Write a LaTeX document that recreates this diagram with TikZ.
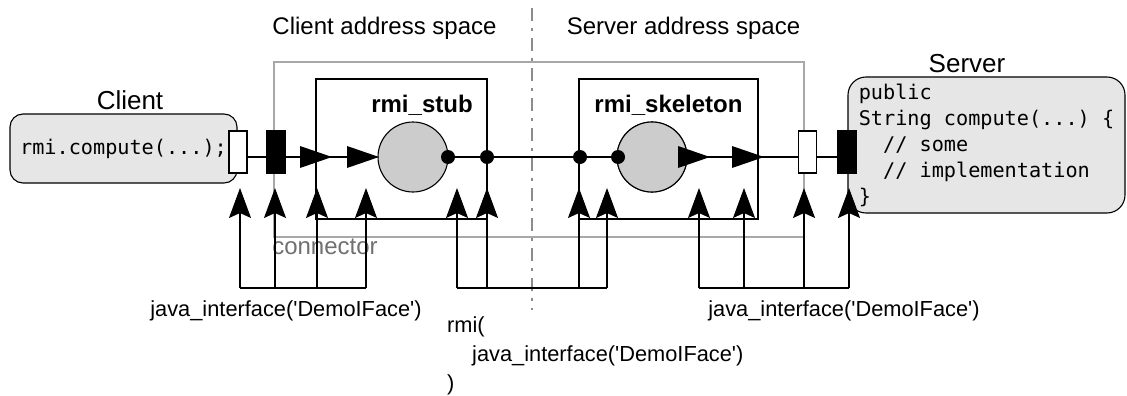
\documentclass[tikz,border=0pt]{standalone}
\usepackage{fontspec}
\setmainfont{Liberation Sans}
\setmonofont{DejaVu Sans Mono}
\usetikzlibrary{arrows.meta}
\definecolor{boxfill}{HTML}{E6E6E6}
\definecolor{discfill}{HTML}{CCCCCC}
\definecolor{framegray}{HTML}{A8A8A8}
\definecolor{labelgray}{HTML}{707070}
\definecolor{splitgray}{HTML}{8C8C8C}

\begin{document}
\begin{tikzpicture}[x=1pt,y=-1pt,
  wire/.style={line width=1.1pt},
  uparrow/.style={line width=1.1pt,-{Stealth[length=30pt,width=22pt,inset=5pt]}},
  port/.style={draw,line width=1.1pt,minimum width=18pt,minimum height=42pt,inner sep=0pt},
  component/.style={draw,line width=1.1pt,inner sep=0pt},
  disc/.style={circle,draw,line width=1.1pt,fill=discfill,minimum size=70pt,inner sep=0pt},
  joint/.style={circle,fill=black,minimum size=14pt,inner sep=0pt},
  codebox/.style={draw,line width=1.1pt,fill=boxfill,inner sep=0pt},
  biglabel/.style={font=\fontsize{24}{28}\selectfont,inner sep=0pt},
  titlelabel/.style={font=\fontsize{26}{30}\selectfont,inner sep=0pt},
  boldlabel/.style={font=\bfseries\fontsize{24}{28}\selectfont,inner sep=0pt},
  smalllabel/.style={font=\fontsize{21.8}{29}\selectfont,inner sep=0pt},
  code/.style={font=\ttfamily\fontsize{20.2}{26}\selectfont},
  flow/.pic={\fill (-32,-11) -- (0,0) -- (-32,11) -- cycle;}
]
\useasboundingbox (0,0) rectangle (1127,396);

% address space titles and the split between them
\node[biglabel,anchor=base] (clspace) at (384.5,35) {Client address space};
\node[biglabel,anchor=base] (svspace) at (683.5,35) {Server address space};
\coordinate (splittop) at (532,8);
\coordinate (splitbot) at (532,310);
\draw[splitgray,line width=1.2pt,dash pattern=on 13pt off 7pt on 3pt off 7pt] (splittop) -- (splitbot);

% connector frame
\node[draw=framegray,line width=1.3pt,minimum width=530pt,minimum height=175pt,inner sep=0pt] (frame) at (539,149.5) {};
\node[biglabel,anchor=base,text=labelgray] (connlbl) at (325,254) {connector};

% stub and skeleton components
\node[component,minimum width=171pt,minimum height=140pt] (stub) at (401.5,149) {};
\node[component,minimum width=179pt,minimum height=140pt] (skel) at (668.5,149) {};
\node[boldlabel,anchor=base] (stublbl) at (422,112) {rmi\_stub};
\node[boldlabel,anchor=base] (skellbl) at (668.5,112) {rmi\_skeleton};

% client and server code
\node[titlelabel,anchor=base] (clientlbl) at (130,109) {Client};
\node[titlelabel,anchor=base] (serverlbl) at (967,73) {Server};
\node[codebox,rounded corners=13pt,minimum width=227pt,minimum height=69pt,code] (client) at (123.5,148.5) {rmi.compute(...);};
\node[codebox,rounded corners=18pt,minimum width=277pt,minimum height=136pt,code,align=left] (server) at (986.5,145)
  {public\\String compute(...) \{\\\phantom{xx}// some\\\phantom{xx}// implementation\\\}};

% discs
\node[disc] (stubdisc) at (413,157) {};
\node[disc] (skeldisc) at (652,157) {};

% ports
\node[port,fill=white] (cwhite) at (238,152) {};
\node[port,fill=black] (cblack) at (276,152) {};
\node[port,fill=white] (swhite) at (807.5,152) {};
\node[port,fill=black] (sblack) at (847,152) {};

% call path
\draw[wire] (cwhite.east |- stubdisc) -- (cblack.west |- stubdisc);
\draw[wire] (cblack.east |- stubdisc) -- (stubdisc.west);
\draw[wire] (stubdisc.east) -- (skeldisc.west);
\draw[wire] (skeldisc.center) -- (swhite.west |- skeldisc);
\draw[wire] (swhite.east |- skeldisc) -- (sblack.west |- skeldisc);
\node[disc] at (skeldisc) {};

\node[joint] (j1) at (448,157) {};
\node[joint] (j2) at (487,157) {};
\node[joint] (j3) at (580,157) {};
\node[joint] (j4) at (618,157) {};

\pic at (332,157) {flow};
\pic at (379,157) {flow};
\pic at (710,157) {flow};
\pic at (764,157) {flow};

% binding arrows
\coordinate (base) at (0,288);
\coordinate (t1) at (240,188);
\coordinate (t2) at (275,188);
\coordinate (t3) at (317,188);
\coordinate (t4) at (366,188);
\coordinate (t5) at (457,188);
\coordinate (t6) at (487,188);
\coordinate (t7) at (579,188);
\coordinate (t8) at (607,188);
\coordinate (t9) at (699,188);
\coordinate (t10) at (744,188);
\coordinate (t11) at (804,188);
\coordinate (t12) at (849,188);

\foreach \a/\b in {t1/t4,t5/t8,t9/t12}
  \draw[wire] (\a |- base) -- (\b |- base);
\foreach \t in {t1,t2,t3,t4,t5,t6,t7,t8,t9,t10,t11,t12}
  \draw[uparrow] (\t |- base) -- (\t);

% binding labels
\node[smalllabel,anchor=base] (leftbind) at (286,316) {java\_interface(\textquotesingle DemoIFace\textquotesingle)};
\node[smalllabel,anchor=base] (rightbind) at (844,316) {java\_interface(\textquotesingle DemoIFace\textquotesingle)};
\node[smalllabel,anchor=base west] (rmil1) at (447,332) {rmi(};
\node[smalllabel,anchor=base west] (rmil2) at (472,361) {java\_interface(\textquotesingle DemoIFace\textquotesingle)};
\node[smalllabel,anchor=base west] (rmil3) at (447,390) {)};
\end{tikzpicture}
\end{document}
